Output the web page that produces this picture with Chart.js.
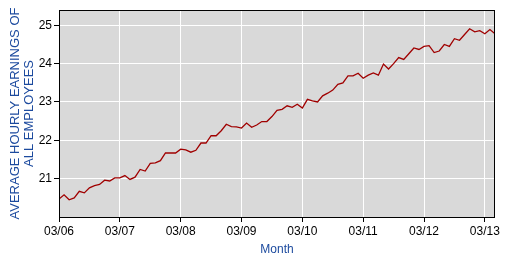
<!DOCTYPE html>
<html>
<head>
<meta charset="utf-8">
<script src="https://cdn.jsdelivr.net/npm/chart.js@4/dist/chart.umd.min.js"></script>
<style>
	html, body { margin: 0; padding: 0; background: #fff; }
	#wrap { width: 509px; height: 259px; }
</style>
</head>
<body>
<div id="wrap"><canvas id="chart" width="509" height="259"></canvas></div>
<script>
// tick labels, one per year (every 12 months from 03/06)
var tickLabels = ['03/06', '03/07', '03/08', '03/09', '03/10', '03/11', '03/12', '03/13'];
var yTicks = [21, 22, 23, 24, 25];
// monthly average hourly earnings, 03/06 .. 05/13
var earnings = [
	20.47, 20.58, 20.45, 20.50, 20.67, 20.63, 20.76, 20.82, 20.85, 20.96, 20.94, 21.02,
	21.02, 21.08, 20.98, 21.04, 21.24, 21.20, 21.40, 21.41, 21.47, 21.67, 21.67, 21.67,
	21.77, 21.75, 21.69, 21.74, 21.93, 21.93, 22.12, 22.12, 22.25, 22.42, 22.36, 22.35,
	22.32, 22.45, 22.34, 22.40, 22.49, 22.49, 22.62, 22.78, 22.81, 22.90, 22.86, 22.94,
	22.84, 23.07, 23.03, 23.00, 23.16, 23.23, 23.31, 23.46, 23.50, 23.68, 23.68, 23.75,
	23.62, 23.70, 23.76, 23.70, 23.99, 23.86, 24.00, 24.16, 24.11, 24.26, 24.41, 24.37,
	24.45, 24.47, 24.29, 24.33, 24.50, 24.45, 24.65, 24.61, 24.76, 24.91, 24.83, 24.86,
	24.78, 24.89, 24.78
];

var blue = '#1c4a9e';
var points = [];
for (var i = 0; i < earnings.length; i++) {
	points.push({x: i, y: earnings[i]});
}

// gray plot background + black frame
var frame = {
	id: 'frame',
	beforeDraw: function(chart) {
		var a = chart.chartArea, ctx = chart.ctx;
		ctx.save();
		ctx.fillStyle = '#d9d9d9';
		ctx.fillRect(a.left, a.top, a.right - a.left, a.bottom - a.top);
		ctx.restore();
	},
	afterDraw: function(chart) {
		var a = chart.chartArea, ctx = chart.ctx;
		ctx.save();
		ctx.strokeStyle = '#000';
		ctx.lineWidth = 1;
		ctx.strokeRect(a.left + 0.5, a.top + 0.5, a.right - a.left - 1, a.bottom - a.top);
		ctx.restore();
	}
};

Chart.defaults.font.family = '"Liberation Sans", Arial, sans-serif';
Chart.defaults.font.size = 12;

var ctx = document.getElementById('chart').getContext('2d');
var chart = new Chart(ctx, {
	type: 'line',
	data: {
		datasets: [{
			data: points,
			borderColor: '#a00000',
			borderWidth: 1.3,
			pointRadius: 0,
			fill: false,
			tension: 0
		}]
	},
	options: {
		responsive: false,
		animation: false,
		layout: { padding: { top: 10, right: 14, left: 0, bottom: 0 } },
		plugins: { legend: { display: false }, tooltip: { enabled: false } },
		scales: {
			x: {
				type: 'linear',
				min: 0,
				max: earnings.length - 1,
				afterBuildTicks: function(scale) {
					scale.ticks = tickLabels.map(function(t, i) { return {value: i * 12}; });
				},
				afterFit: function(scale) { scale.height = 42; },
				ticks: {
					color: '#000',
					padding: 2,
					maxRotation: 0,
					callback: function(v) { return tickLabels[v / 12]; }
				},
				grid: { color: '#fff', lineWidth: 1, tickColor: '#000', tickLength: 5 },
				border: { display: false },
				title: { display: true, text: 'Month', color: blue, padding: { top: 0, bottom: 2 } }
			},
			y: {
				min: 20,
				max: 25.4,
				afterBuildTicks: function(scale) {
					scale.ticks = yTicks.map(function(v) { return {value: v}; });
				},
				afterFit: function(scale) { scale.width = 59; },
				ticks: { color: '#000', padding: 2 },
				grid: { color: '#fff', lineWidth: 1, tickColor: '#000', tickLength: 5 },
				border: { display: false },
				title: {
					display: true,
					text: ['AVERAGE HOURLY EARNINGS OF', 'ALL EMPLOYEES'],
					color: blue,
					font: { size: 13, lineHeight: 1.05 },
					padding: { top: 9, bottom: 0 }
				}
			}
		}
	},
	plugins: [frame]
});
</script>
</body>
</html>
